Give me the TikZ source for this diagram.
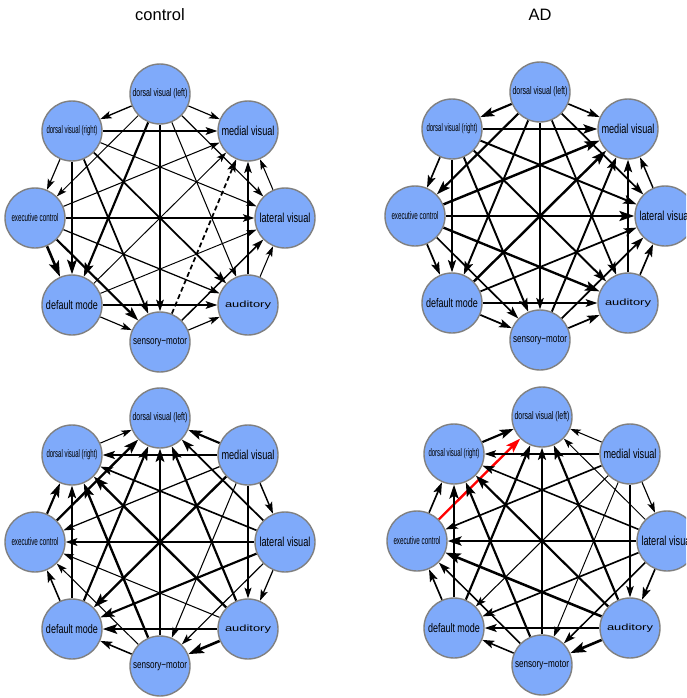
\documentclass[tikz,border=0pt]{standalone}
\usepackage{fontspec}
\setmainfont{Liberation Sans}
\usetikzlibrary{arrows.meta}
\pgfdeclarelayer{bg}
\pgfdeclarelayer{edges}
\pgfsetlayers{bg,edges,main}
\definecolor{nodefill}{RGB}{127,170,250}
\definecolor{nodeline}{RGB}{128,128,128}
% label: font size, target width, text (height kept, width squeezed/stretched)
\newcommand\lab[3]{{\fontsize{#1pt}{#1pt}\selectfont\resizebox{#2pt}{\height}{#3}}}
\tikzset{
  net/.style={circle, draw=nodeline, fill=nodefill, line width=1.4pt,
    minimum size=60pt, inner sep=0pt, text=black},
  e/.style={line width=#1*1pt+0.15pt, draw=black,
    -{Stealth[length=7pt 3.2, width=4.5pt 2.2, inset=1.8pt 0.5]}},
  dashedge/.style={dash pattern=on 5pt off 3pt},
  title/.style={font=\fontsize{16.5pt}{16.5pt}\selectfont, anchor=base},
}
% eight regions placed on a circle around (cx,cy)
\newcommand\netpanel[3]{%
  \node[net] (#1DL) at (#2,#3-124) {\lab{11}{55}{dorsal visual (left)}};
  \node[net] (#1DR) at (#2-88,#3-87) {\lab{11}{51}{dorsal visual (right)}};
  \node[net] (#1MV) at (#2+88,#3-87) {\lab{13}{53}{medial visual}};
  \node[net] (#1EC) at (#2-125,#3) {\lab{11}{47}{executive control}};
  \node[net] (#1LV) at (#2+125,#3) {\lab{13}{51}{lateral visual}};
  \node[net] (#1DM) at (#2-88,#3+87) {\lab{12.5}{52}{default mode}};
  \node[net] (#1AU) at (#2+88,#3+87) {\lab{9}{46}{auditory}};
  \node[net] (#1SM) at (#2,#3+124) {\lab{11}{54}{sensory−motor}};
}
\begin{document}
\begin{tikzpicture}[x=1pt,y=-1pt]
\useasboundingbox (0,0) rectangle (686,698);
\clip (0,0) rectangle (686,698);
\begin{pgfonlayer}{bg}
\fill[white] (0,0) rectangle (686,698);
\end{pgfonlayer}

\node[title] (tctrl) at (160,21) {control};
\node[title] (tad) at (540,21) {AD};

\netpanel{a}{160}{218}
\netpanel{b}{540}{216}
\netpanel{c}{160}{542}
\netpanel{d}{542}{541}

\begin{pgfonlayer}{edges}
% control, upper
\draw[e=1.2] (aDL) -- (aDR);
\draw[e=1.0] (aDL) -- (aMV);
\draw[e=0.8] (aDL) -- (aEC);
\draw[e=2.0] (aDL) -- (aDM);
\draw[e=1.3] (aDL) -- (aSM);
\draw[e=0.9] (aDL) -- (aAU);
\draw[e=1.0] (aDL) -- (aLV);
\draw[e=1.3] (aDR) -- (aMV);
\draw[e=1.0] (aDR) -- (aEC);
\draw[e=2.2] (aDR) -- (aDM);
\draw[e=1.6] (aDR) -- (aSM);
\draw[e=1.6] (aDR) -- (aAU);
\draw[e=0.9] (aDR) -- (aLV);
\draw[e=0.9] (aEC) -- (aMV);
\draw[e=1.2] (aEC) -- (aLV);
\draw[e=2.5] (aEC) -- (aDM);
\draw[e=2.0] (aEC) -- (aSM);
\draw[e=1.1] (aEC) -- (aAU);
\draw[e=0.8] (aDM) -- (aMV);
\draw[e=0.8] (aDM) -- (aLV);
\draw[e=1.3] (aDM) -- (aAU);
\draw[e=1.0] (aDM) -- (aSM);
\draw[e=1.6,dashedge] (aSM) -- (aMV);
\draw[e=1.3] (aSM) -- (aLV);
\draw[e=1.0] (aSM) -- (aAU);
\draw[e=1.2] (aAU) -- (aMV);
\draw[e=0.9] (aAU) -- (aLV);
\draw[e=0.9] (aLV) -- (aMV);
% AD, upper
\draw[e=2.0] (bDL) -- (bDR);
\draw[e=1.5] (bDL) -- (bMV);
\draw[e=2.0] (bDL) -- (bEC);
\draw[e=1.8] (bDL) -- (bDM);
\draw[e=1.2] (bDL) -- (bSM);
\draw[e=1.6] (bDL) -- (bAU);
\draw[e=1.6] (bDL) -- (bLV);
\draw[e=2.0] (bDR) -- (bMV);
\draw[e=1.5] (bDR) -- (bEC);
\draw[e=1.5] (bDR) -- (bDM);
\draw[e=1.8] (bDR) -- (bSM);
\draw[e=1.8] (bDR) -- (bAU);
\draw[e=1.8] (bDR) -- (bLV);
\draw[e=2.3] (bEC) -- (bMV);
\draw[e=2.3] (bEC) -- (bLV);
\draw[e=1.6] (bEC) -- (bDM);
\draw[e=1.5] (bEC) -- (bSM);
\draw[e=2.2] (bEC) -- (bAU);
\draw[e=2.3] (bDM) -- (bMV);
\draw[e=1.6] (bDM) -- (bLV);
\draw[e=1.3] (bDM) -- (bAU);
\draw[e=1.6] (bDM) -- (bSM);
\draw[e=1.8] (bSM) -- (bMV);
\draw[e=1.6] (bSM) -- (bLV);
\draw[e=1.6] (bSM) -- (bAU);
\draw[e=1.6] (bAU) -- (bMV);
\draw[e=1.5] (bAU) -- (bLV);
\draw[e=1.3] (bLV) -- (bMV);
% control, lower
\draw[e=0.9] (cDR) -- (cDL);
\draw[e=2.0] (cMV) -- (cDL);
\draw[e=2.2] (cEC) -- (cDL);
\draw[e=2.0] (cDM) -- (cDL);
\draw[e=1.8] (cSM) -- (cDL);
\draw[e=2.0] (cAU) -- (cDL);
\draw[e=1.6] (cLV) -- (cDL);
\draw[e=1.5] (cMV) -- (cDR);
\draw[e=2.0] (cEC) -- (cDR);
\draw[e=1.6] (cDM) -- (cDR);
\draw[e=2.2] (cSM) -- (cDR);
\draw[e=2.2] (cAU) -- (cDR);
\draw[e=1.5] (cLV) -- (cDR);
\draw[e=1.1] (cMV) -- (cEC);
\draw[e=1.3] (cLV) -- (cEC);
\draw[e=1.4] (cDM) -- (cEC);
\draw[e=0.9] (cSM) -- (cEC);
\draw[e=0.9] (cAU) -- (cEC);
\draw[e=2.2] (cMV) -- (cDM);
\draw[e=2.0] (cLV) -- (cDM);
\draw[e=2.2] (cAU) -- (cDM);
\draw[e=1.4] (cSM) -- (cDM);
\draw[e=0.9] (cMV) -- (cSM);
\draw[e=1.0] (cLV) -- (cSM);
\draw[e=2.5] (cAU) -- (cSM);
\draw[e=1.0] (cMV) -- (cAU);
\draw[e=1.1] (cLV) -- (cAU);
\draw[e=1.3] (cMV) -- (cLV);
% AD, lower
\draw[e=2.0] (dDR) -- (dDL);
\draw[e=0.9] (dMV) -- (dDL);
\draw[e=2.2,draw=red] (dEC) -- (dDL);
\draw[e=2.0] (dDM) -- (dDL);
\draw[e=1.5] (dSM) -- (dDL);
\draw[e=2.0] (dAU) -- (dDL);
\draw[e=0.8] (dLV) -- (dDL);
\draw[e=1.2] (dMV) -- (dDR);
\draw[e=1.5] (dEC) -- (dDR);
\draw[e=2.0] (dDM) -- (dDR);
\draw[e=2.0] (dSM) -- (dDR);
\draw[e=2.0] (dAU) -- (dDR);
\draw[e=1.4] (dLV) -- (dDR);
\draw[e=1.5] (dMV) -- (dEC);
\draw[e=2.0] (dLV) -- (dEC);
\draw[e=1.5] (dDM) -- (dEC);
\draw[e=1.4] (dSM) -- (dEC);
\draw[e=2.4] (dAU) -- (dEC);
\draw[e=0.9] (dMV) -- (dDM);
\draw[e=1.5] (dLV) -- (dDM);
\draw[e=1.4] (dAU) -- (dDM);
\draw[e=1.4] (dSM) -- (dDM);
\draw[e=0.8] (dMV) -- (dSM);
\draw[e=1.4] (dLV) -- (dSM);
\draw[e=2.5] (dAU) -- (dSM);
\draw[e=1.2] (dMV) -- (dAU);
\draw[e=1.5] (dLV) -- (dAU);
\draw[e=1.0] (dMV) -- (dLV);
\end{pgfonlayer}
\end{tikzpicture}
\end{document}
